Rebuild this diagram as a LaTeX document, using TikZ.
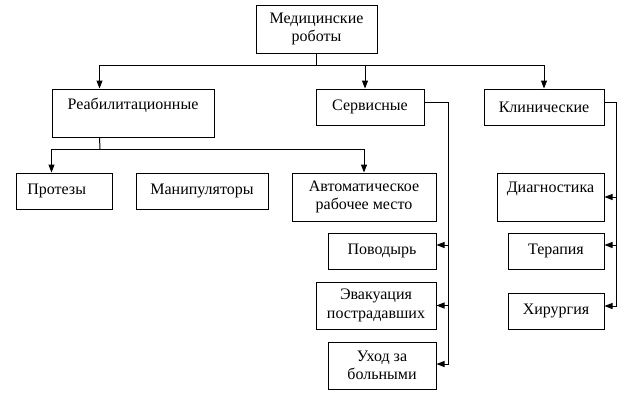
\documentclass[tikz,border=0pt]{standalone}
\usepackage{fontspec}
\setmainfont{Liberation Serif}
\usetikzlibrary{arrows.meta}

\begin{document}
\begin{tikzpicture}[
  x=0.75pt, y=-0.75pt,
  line width=0.75pt,
  box/.style={draw, inner sep=0pt, align=center, font=\fontsize{12}{14}\selectfont},
  sz/.style 2 args={minimum width=#1*0.75pt, minimum height=#2*0.75pt},
  arr/.style={-{Triangle[length=6pt,width=4.5pt]}}
]
\useasboundingbox (0,0) rectangle (629,397);

\node[box, sz={121}{48}] (med) at (316.5,29) {Медицинские\\роботы};

\node[box, sz={162}{48}] (reab) at (133,113) {Реабилитационные\\\mbox{}};
\node[box, sz={108}{36}] (serv) at (370,107) {Сервисные};
\node[box, sz={120}{36}] (klin) at (544,107) {Клинические};

\node[box, sz={96}{36}] (prot) at (64,191) {Протезы\hspace*{11pt}};
\node[box, sz={132}{36}] (manip) at (202,191) {Манипуляторы};
\node[box, sz={144}{48}] (avt) at (364,197) {Автоматическое\\рабочее место};

\node[box, sz={108}{36}] (povod) at (382,251) {Поводырь};
\node[box, sz={120}{47}] (evak) at (376,305.5) {Эвакуация\\пострадавших};
\node[box, sz={108}{47}] (uhod) at (382,365.5) {Уход за\\больными};

\node[box, sz={107}{48}] (diag) at (550.5,197) {Диагностика\\\mbox{}};
\node[box, sz={96}{36}] (terap) at (556,251) {Терапия};
\node[box, sz={96}{36}] (hir) at (556,311) {Хирургия};

\coordinate (top) at (316.5,65);
\coordinate (mid) at (100,149);
\coordinate (srv) at (448,102);
\coordinate (kln) at (616,102);

\draw (med) -- (top);
\draw[arr] (top) -| ([xshift=36pt]reab.north west);
\draw[arr] (top) -| ([xshift=-3.75pt]serv.north);
\draw[arr] (top) -| (klin);

\draw ([xshift=36pt]reab.south west) -- (mid);
\draw[arr] (mid) -| ([xshift=27pt]prot.north west);
\draw[arr] (mid) -| (avt);

\draw[arr] ([yshift=3.75pt]serv.east) -- (srv) |- ([yshift=1.1pt]uhod.east);
\foreach \n/\s in {povod/4.5pt,evak/0pt}
  \draw[arr] ([yshift=\s]\n.east -| srv) -- ([yshift=\s]\n.east);

\draw[arr] ([yshift=3.75pt]klin.east) -- (kln) |- ([yshift=3.75pt]hir.east);
\foreach \n/\s in {diag/0pt,terap/4.5pt}
  \draw[arr] ([yshift=\s]\n.east -| kln) -- ([yshift=\s]\n.east);
\end{tikzpicture}
\end{document}
